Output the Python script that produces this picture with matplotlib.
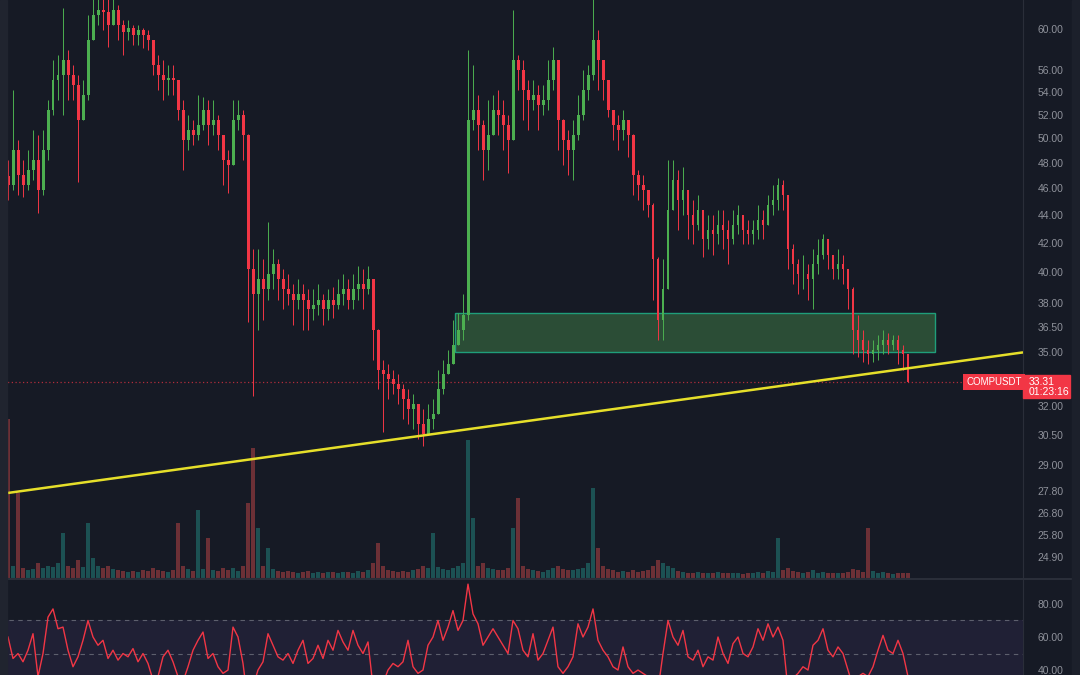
import numpy as np
import matplotlib.pyplot as plt
from matplotlib.patches import Rectangle
from matplotlib.lines import Line2D
from matplotlib.ticker import FixedLocator, FuncFormatter, NullLocator
from matplotlib.transforms import blended_transform_factory, IdentityTransform

plt.rcParams['font.family'] = ['Liberation Sans', 'DejaVu Sans']

# COMPUSDT candles (open = previous close)
first_open = 47.0
close = [46.27, 49.02, 47.05, 46.27, 47.44, 48.23, 45.90, 49.02, 52.40, 55.08,
         55.55, 56.98, 55.55, 54.63, 51.55, 53.73, 58.92, 61.42, 61.93, 61.73,
         60.40, 61.93, 60.40, 59.70, 60.10, 59.40, 59.90, 59.40, 58.92, 56.51,
         55.55, 55.08, 55.27, 55.08, 52.40, 49.87, 50.70, 50.28, 51.14, 52.40,
         51.14, 51.55, 50.28, 48.23, 47.83, 51.55, 52.00, 50.28, 40.20, 38.55,
         39.53, 38.87, 39.87, 40.53, 39.53, 38.87, 38.55, 38.20, 38.55, 38.20,
         37.60, 37.90, 38.20, 37.60, 38.20, 37.90, 38.55, 38.87, 38.20, 38.87,
         39.20, 38.87, 39.53, 36.33, 34.00, 33.74, 33.46, 33.20, 32.92, 32.38,
         31.85, 32.10, 31.05, 30.55, 31.30, 31.58, 32.92, 33.74, 34.31, 35.43,
         36.33, 37.25, 51.55, 52.40, 51.14, 49.02, 50.28, 52.40, 52.00, 51.14,
         49.87, 56.98, 56.00, 54.18, 53.27, 53.73, 52.83, 53.27, 55.08, 56.98,
         51.55, 49.87, 49.02, 50.28, 52.00, 54.18, 55.55, 58.92, 56.98, 55.08,
         52.40, 51.14, 50.70, 51.55, 50.28, 47.05, 46.27, 45.90, 44.77, 40.87,
         36.95, 38.87, 44.40, 46.66, 45.14, 45.90, 44.00, 43.30, 44.40, 42.25,
         42.95, 42.60, 43.30, 42.95, 42.25, 43.30, 44.00, 42.95, 42.60, 42.95,
         43.67, 43.30, 44.77, 45.14, 46.27, 45.52, 41.55, 40.53, 39.87, 39.87,
         39.53, 40.53, 41.20, 42.25, 41.20, 40.20, 40.53, 40.20, 38.87, 36.33,
         35.73, 35.15, 34.88, 35.15, 35.43, 35.73, 35.43, 35.73, 35.15, 34.88,
         33.31]
high = [48.23, 54.18, 49.87, 48.23, 49.02, 50.70, 50.28, 50.70, 53.27, 56.98,
        57.46, 62.14, 57.94, 56.51, 55.55, 55.08, 61.42, 63.6, 63.8, 63.4,
        63.2, 63.9, 62.45, 60.90, 60.90, 60.40, 60.40, 60.10, 59.90, 57.94,
        57.46, 56.98, 56.51, 56.51, 54.63, 53.27, 52.00, 51.55, 53.73, 53.55,
        53.27, 53.27, 52.00, 49.87, 49.02, 53.27, 53.27, 52.40, 50.40, 41.55,
        41.55, 40.87, 43.52, 41.55, 40.87, 40.20, 39.87, 39.20, 39.53, 39.20,
        38.87, 38.87, 39.20, 38.55, 38.87, 39.00, 39.53, 39.87, 39.53, 39.87,
        40.40, 40.20, 40.40, 39.53, 36.40, 34.58, 34.31, 34.00, 33.74, 33.20,
        32.92, 32.65, 32.10, 31.85, 32.10, 32.38, 34.00, 34.58, 35.15, 36.95,
        37.40, 38.55, 57.94, 56.51, 53.73, 51.55, 53.27, 53.73, 54.18, 53.27,
        52.00, 61.93, 57.46, 56.98, 55.08, 55.08, 54.63, 54.63, 56.98, 58.24,
        54.18, 51.60, 50.70, 51.55, 53.73, 56.00, 56.51, 63.2, 59.90, 56.98,
        54.18, 52.40, 52.00, 52.40, 51.55, 50.40, 47.44, 47.05, 45.90, 44.90,
        41.00, 40.87, 48.23, 48.23, 47.44, 47.67, 45.14, 45.14, 45.52, 44.00,
        44.00, 44.00, 44.40, 44.40, 43.67, 44.40, 44.77, 44.00, 43.67, 43.67,
        44.77, 44.40, 45.52, 46.27, 46.82, 46.66, 45.52, 41.90, 40.87, 41.20,
        40.53, 41.55, 42.25, 42.60, 41.90, 41.20, 41.55, 41.20, 40.20, 39.00,
        37.25, 36.33, 35.73, 35.73, 36.03, 36.33, 36.15, 36.03, 36.03, 35.43,
        34.58]
low = [45.14, 45.90, 45.52, 45.37, 45.90, 46.66, 44.18, 45.52, 48.23, 52.00,
       53.27, 52.00, 53.27, 53.27, 46.50, 51.55, 53.27, 59.90, 60.40, 59.90,
       58.24, 60.40, 58.92, 57.46, 58.92, 58.43, 58.43, 58.14, 57.94, 55.55,
       54.18, 53.27, 53.73, 53.73, 51.55, 47.44, 49.02, 49.45, 49.87, 50.70,
       49.45, 50.28, 49.02, 46.27, 45.67, 49.02, 50.70, 48.23, 36.82, 32.54,
       36.33, 36.95, 38.20, 38.87, 38.20, 37.60, 37.90, 36.63, 37.60, 36.33,
       36.33, 36.95, 37.25, 36.63, 36.95, 37.07, 37.60, 37.90, 37.60, 37.60,
       38.20, 37.60, 38.55, 34.58, 32.92, 30.65, 32.38, 32.65, 32.10, 31.30,
       31.05, 30.80, 30.30, 29.95, 30.70, 30.80, 31.85, 32.65, 33.74, 34.58,
       35.43, 35.73, 36.95, 50.70, 49.02, 46.66, 47.44, 50.28, 50.28, 49.02,
       47.20, 51.55, 54.18, 51.55, 50.70, 52.40, 50.70, 52.00, 52.40, 54.18,
       49.02, 47.83, 47.05, 46.66, 49.87, 51.55, 53.27, 55.08, 54.18, 53.27,
       51.80, 49.87, 49.02, 49.87, 48.46, 45.52, 45.14, 44.40, 43.87, 38.20,
       35.73, 35.73, 41.55, 45.14, 42.95, 44.00, 42.25, 41.90, 42.95, 41.04,
       41.55, 41.20, 41.90, 41.55, 40.53, 41.90, 42.60, 41.90, 41.90, 41.90,
       42.25, 42.25, 43.30, 44.00, 44.40, 44.40, 40.20, 39.20, 38.55, 38.87,
       38.20, 37.60, 39.87, 40.87, 40.20, 39.53, 39.53, 39.20, 37.60, 34.88,
       34.76, 34.47, 34.31, 34.47, 34.58, 34.88, 34.88, 35.15, 34.31, 34.00,
       33.31]
volume = [160, 12, 85, 10, 8, 9, 15, 10, 12, 11,
          15, 45, 12, 10, 18, 11, 55, 20, 12, 10,
          12, 9, 8, 7, 6, 7, 6, 8, 7, 10,
          8, 7, 6, 8, 55, 12, 9, 7, 68, 9,
          40, 8, 7, 10, 8, 10, 7, 12, 75, 130,
          50, 12, 30, 9, 7, 6, 7, 6, 5, 6,
          7, 5, 6, 5, 6, 6, 5, 6, 6, 5,
          7, 6, 8, 15, 35, 12, 8, 7, 6, 7,
          6, 8, 9, 12, 10, 45, 11, 9, 8, 10,
          12, 15, 138, 60, 12, 15, 10, 9, 8, 8,
          10, 50, 80, 12, 9, 8, 7, 6, 8, 10,
          12, 9, 8, 8, 9, 10, 15, 90, 30, 12,
          9, 8, 6, 7, 6, 8, 6, 7, 8, 12,
          18, 15, 12, 10, 7, 6, 5, 5, 6, 5,
          5, 5, 6, 5, 5, 5, 5, 4, 5, 5,
          6, 5, 7, 6, 40, 8, 10, 7, 6, 5,
          6, 8, 5, 6, 5, 5, 5, 5, 6, 9,
          8, 6, 50, 7, 5, 6, 5, 4, 5, 5,
          5]
rsi = [60, 47, 50, 45, 52, 62, 36, 50, 72, 77,
       65, 66, 52, 42, 48, 58, 70, 60, 55, 58,
       47, 52, 46, 50, 48, 53, 45, 50, 44, 34,
       36, 48, 52, 45, 36, 33, 42, 52, 58, 63,
       47, 50, 42, 38, 40, 66, 60, 44, 20, 30,
       40, 45, 62, 55, 48, 46, 50, 44, 52, 58,
       44, 47, 55, 47, 58, 52, 64, 57, 52, 64,
       55, 50, 57, 30, 25, 32, 40, 44, 42, 45,
       58, 42, 38, 40, 55, 60, 70, 58, 66, 76,
       64, 70, 92, 74, 68, 55, 60, 65, 60, 55,
       50, 70, 65, 52, 48, 62, 46, 50, 58, 66,
       42, 38, 42, 48, 68, 60, 66, 77, 58, 52,
       48, 42, 40, 54, 42, 38, 40, 38, 36, 30,
       28, 50, 70, 60, 55, 64, 48, 46, 52, 42,
       48, 46, 60, 50, 44, 56, 60, 50, 48, 54,
       65, 58, 68, 60, 66, 58, 28, 35, 38, 42,
       40, 55, 58, 65, 52, 48, 54, 50, 40, 30,
       36, 38, 36, 42, 52, 61, 52, 50, 58, 50,
       36]

price_ticks = [24.9, 25.8, 26.8, 27.8, 29, 30.5, 32, 35, 36.5, 38,
               40, 42, 44, 46, 48, 50, 52, 54, 56, 60]
rsi_ticks = [40, 60, 80]

# drawings: demand zone and rising trend line (x in candle index)
zone_x = (89.4, 185.4)
zone_p = (35.0, 37.35)
trend_x = (0, 203)
trend_p = (27.69, 35.0)

BG = '#161a25'
UP, DOWN = '#4caf50', '#f23645'
TXT = '#8f929b'
GRID = '#2a2e39'
W, H = 1080, 675

close = np.array(close)
opens = np.concatenate([[first_open], close[:-1]])
high = np.maximum.reduce([np.array(high), opens, close])
low = np.minimum.reduce([np.array(low), opens, close])
x = np.arange(len(close))
up = close >= opens
cols = np.where(up, UP, DOWN)

fig = plt.figure(figsize=(W / 100, H / 100), dpi=100, facecolor=BG)
ax = fig.add_axes([0, 1 - 578 / H, 1023 / W, 578 / H])
axr = fig.add_axes([0, 0, 1023 / W, 95 / H], sharex=ax)

# volume overlay under the candles
axv = ax.twinx()
axv.set_zorder(ax.get_zorder() - 1)
ax.patch.set_visible(False)
axv.set_facecolor(BG)
vcols = np.where(up, '#26a69a', '#ef5350')
axv.bar(x, volume, width=0.85, color=vcols, alpha=0.4, linewidth=0)
axv.set_ylim(0, 580)
axv.axis('off')

ax.set_yscale('log')
ax.add_patch(Rectangle((zone_x[0], zone_p[0]), zone_x[1] - zone_x[0], zone_p[1] - zone_p[0],
                       facecolor='#2b4d36', edgecolor='#1f9e7a', lw=1, zorder=1))
ax.vlines(x, low, high, colors=cols, lw=0.7, zorder=2)
ax.bar(x, np.abs(close - opens), bottom=np.minimum(opens, close), width=0.6,
       color=cols, linewidth=0, zorder=3)
ax.plot(trend_x, trend_p, color='#e6df2a', lw=1.8, zorder=4, solid_capstyle='butt')
ax.axhline(close[-1], xmax=965 / 1023, color=DOWN, ls=(0, (1, 2)), lw=0.9, alpha=0.7, zorder=2)

ax.set_xlim(-1.6, 203)
ax.set_ylim(24.03, 62.97)
ax.yaxis.set_major_locator(FixedLocator(price_ticks))
ax.yaxis.set_minor_locator(NullLocator())
ax.yaxis.set_major_formatter(FuncFormatter(lambda v, _: f'{v:.2f}'))
ax.yaxis.set_minor_formatter(FuncFormatter(lambda v, _: ''))
ax.tick_params(axis='y', left=False, labelleft=False, right=False, labelright=True,
               pad=7, labelsize=7.5, labelcolor=TXT)
ax.tick_params(axis='x', bottom=False, labelbottom=False)
for s in ['top', 'bottom', 'left']:
    ax.spines[s].set_visible(False)
ax.spines['right'].set_color(GRID)

# RSI pane
axr.set_facecolor(BG)
axr.axhspan(30, 70, color='#7e57c2', alpha=0.1, lw=0)
for lvl in (70, 50):
    axr.axhline(lvl, color='#787b86', lw=0.8, ls=(0, (4, 4)), alpha=0.7)
axr.plot(x, rsi, color=DOWN, lw=1.0)
axr.set_ylim(37, 94.5)
axr.set_yticks(rsi_ticks)
axr.yaxis.set_major_formatter(FuncFormatter(lambda v, _: f'{v:.2f}'))
axr.tick_params(axis='y', left=False, labelleft=False, right=False, labelright=True,
                pad=7, labelsize=7.5, labelcolor=TXT)
axr.tick_params(axis='x', bottom=False, labelbottom=False)
for s in ['top', 'bottom', 'left']:
    axr.spines[s].set_visible(False)
axr.spines['right'].set_color(GRID)

# pane separator and side strips
fig.add_artist(Line2D([0, 1], [1 - 579 / H] * 2, transform=fig.transFigure, color=GRID, lw=1.5))
fig.add_artist(Rectangle((0, 0), 7 / W, 1, transform=fig.transFigure, color='#20242f', zorder=5))
fig.add_artist(Rectangle((1072 / W, 0), 8 / W, 1, transform=fig.transFigure, color='#1c202b', zorder=5))

# last price labels
bt = blended_transform_factory(ax.transAxes, ax.transData)
ax.text(994 / 1023, close[-1], 'COMPUSDT', transform=bt, ha='center', va='center',
        color='white', fontsize=7, zorder=6,
        bbox=dict(boxstyle='square,pad=0.3', fc=DOWN, ec='none'))
yd = ax.transData.transform((0, close[-1]))[1]
idt = IdentityTransform()
fig.add_artist(Rectangle((1023, yd - 16), 47, 23, transform=idt, color=DOWN, zorder=6))
fig.text(1029, yd, f'{close[-1]:.2f}', transform=idt, va='center', ha='left',
         color='white', fontsize=7.5, zorder=7)
fig.text(1029, yd - 10, '01:23:16', transform=idt, va='center', ha='left',
         color='white', fontsize=7.5, zorder=7)

fig.savefig('out.png', dpi=100, facecolor=BG)
